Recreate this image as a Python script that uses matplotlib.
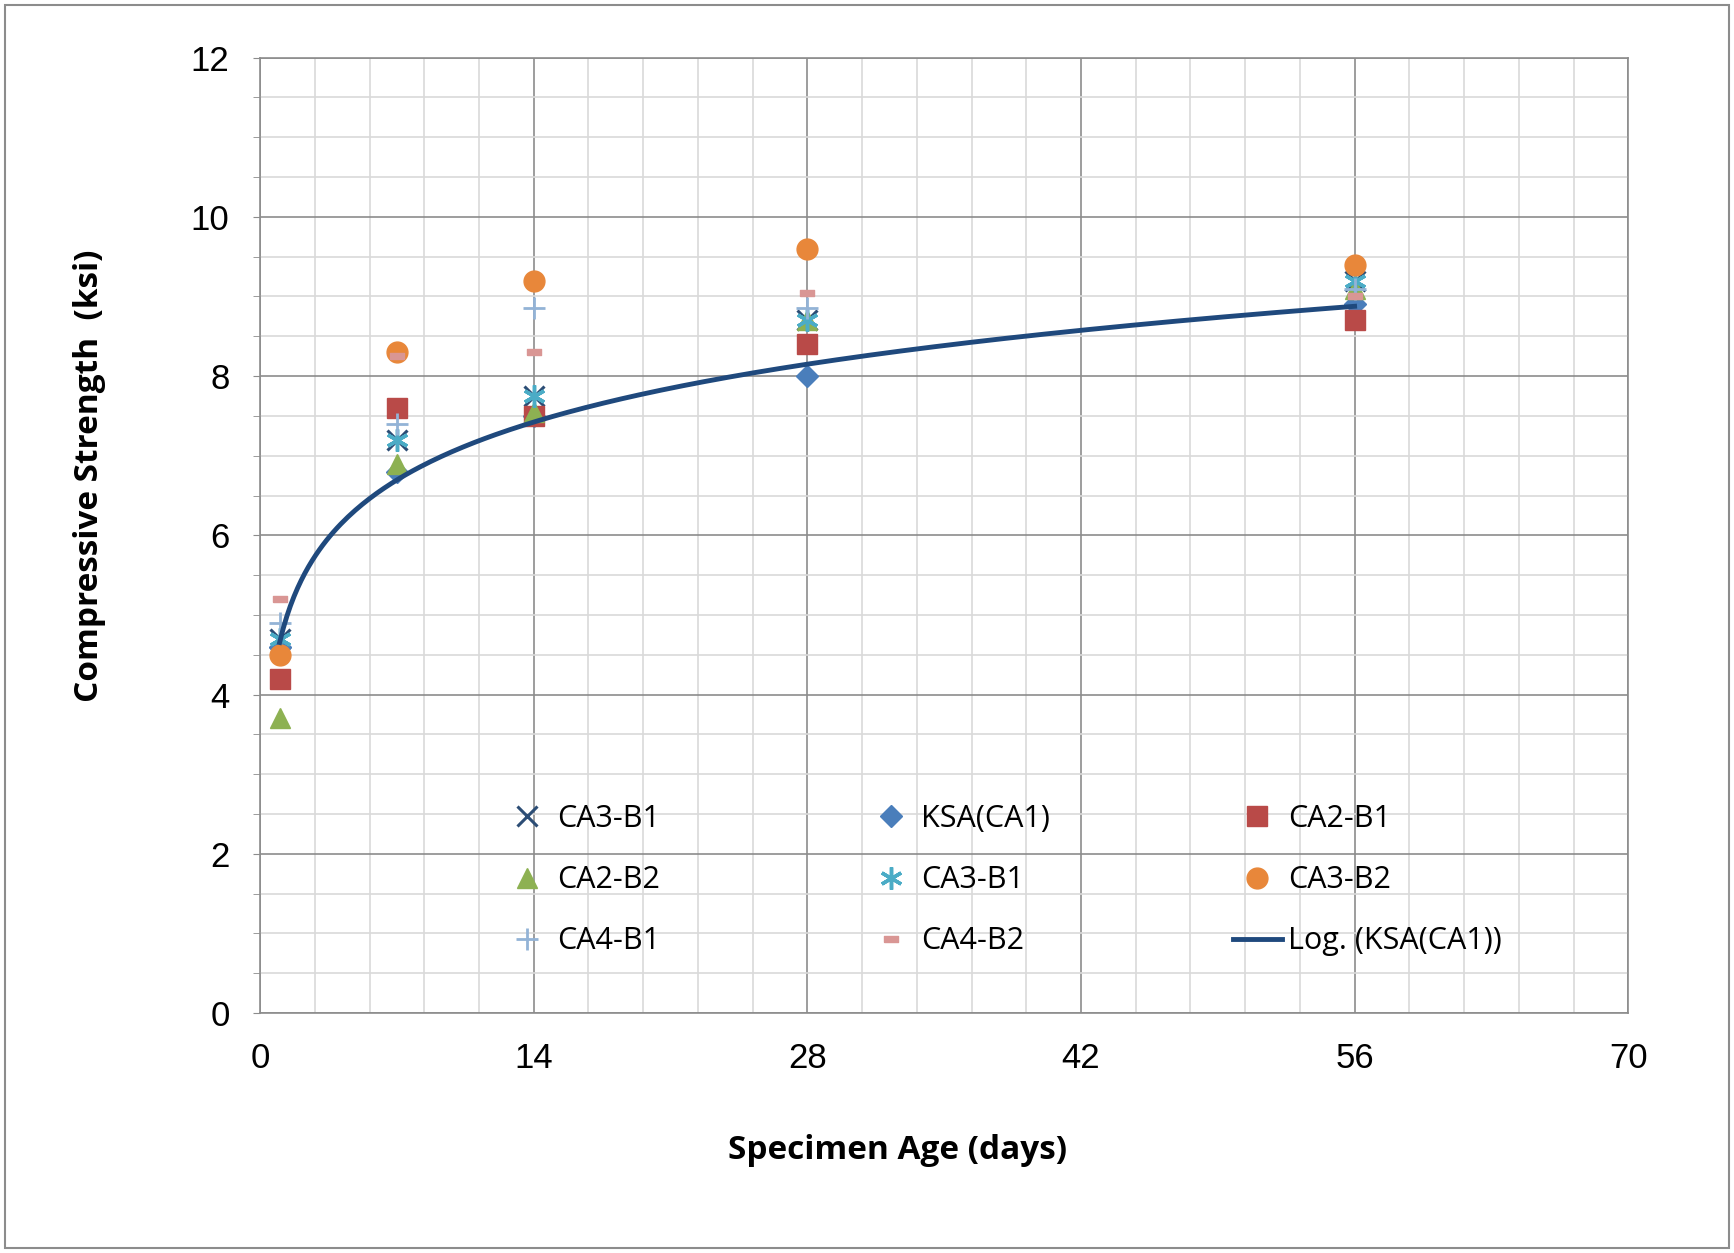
import numpy as np
import matplotlib.pyplot as plt
from matplotlib.patches import Rectangle
from matplotlib.ticker import MultipleLocator

plt.rcParams['font.family'] = ['Open Sans', 'DejaVu Sans']

days = [1, 7, 14, 28, 56]
ca3_b1 = [4.7, 7.2, 7.75, 8.7, 9.2]
ksa_ca1 = [4.6, 6.8, 7.5, 8.0, 8.9]
ca2_b1 = [4.2, 7.6, 7.5, 8.4, 8.7]
ca2_b2 = [3.7, 6.9, 7.55, 8.7, 9.1]
ca3_b1b = [4.7, 7.2, 7.75, 8.7, 9.2]
ca3_b2 = [4.5, 8.3, 9.2, 9.6, 9.4]
ca4_b1 = [4.9, 7.4, 8.85, 8.85, 9.1]
ca4_b2 = [5.2, 8.25, 8.3, 9.05, 9.0]

dash = [(-1, -0.38), (1, -0.38), (1, 0.38), (-1, 0.38), (-1, -0.38)]

fig = plt.figure(figsize=(17.34, 12.53), dpi=100)
ax = fig.add_axes([0.150, 0.1915, 0.789, 0.7625])

h = {}
h['x'] = ax.plot(days, ca3_b1, 'x', color='#2c4d75', ms=14, mew=2.2, ls='none', label='CA3-B1')[0]
h['ksa'] = ax.plot(days, ksa_ca1, 'D', color='#4a7ebb', ms=11, ls='none', label='KSA(CA1)')[0]
h['sq'] = ax.plot(days, ca2_b1, 's', color='#b94a48', ms=14, ls='none', label='CA2-B1')[0]
h['tri'] = ax.plot(days, ca2_b2, '^', color='#8db152', ms=15, ls='none', label='CA2-B2')[0]
h['ast'] = ax.plot(days, ca3_b1b, marker=(6, 2, 0), color='#4bacc6', ms=16, mew=2.5, ls='none', label='CA3-B1')[0]
h['circ'] = ax.plot(days, ca3_b2, 'o', color='#e8873a', ms=15, ls='none', label='CA3-B2')[0]
h['plus'] = ax.plot(days, ca4_b1, '+', color='#93b3d6', ms=16, mew=2, ls='none', label='CA4-B1')[0]
h['dash'] = ax.plot(days, ca4_b2, marker=dash, color='#d99694', ms=10, ls='none', label='CA4-B2')[0]

# logarithmic trendline of KSA(CA1)
a, b = np.polyfit(np.log(days), ksa_ca1, 1)
xt = np.linspace(days[0], days[-1], 300)
h['log'] = ax.plot(xt, a * np.log(xt) + b, color='#1f497d', lw=3.5, label='Log. (KSA(CA1))')[0]

ax.set_xlim(0, 70)
ax.set_ylim(0, 12)
ax.xaxis.set_major_locator(MultipleLocator(14))
ax.xaxis.set_minor_locator(MultipleLocator(2.8))
ax.yaxis.set_major_locator(MultipleLocator(2))
ax.yaxis.set_minor_locator(MultipleLocator(0.5))
ax.grid(which='major', color='#8c8c8c', lw=1.2)
ax.grid(which='minor', color='#d9d9d9', lw=1.2)
ax.set_axisbelow(True)
for s in ax.spines.values():
    s.set_color('#8c8c8c')
    s.set_linewidth(1.2)
ax.tick_params(axis='x', which='both', length=0, pad=21, labelsize=25)
ax.tick_params(axis='y', which='major', length=5, color='#8c8c8c', pad=17, labelsize=25)
ax.tick_params(axis='y', which='minor', length=5, color='#8c8c8c')
for lab in ax.get_xticklabels() + ax.get_yticklabels():
    lab.set_family(['Liberation Sans', 'DejaVu Sans'])

ax.set_xlabel('Specimen Age (days)', fontsize=24, fontweight='bold', va='center')
ax.xaxis.set_label_coords(0.466, -0.1435)
ax.set_ylabel('Compressive Strength  (ksi)', fontsize=24, fontweight='bold', va='center')
ax.yaxis.set_label_coords(-0.125, 0.5625)

# legend drawn as three columns with fixed positions
cols = [['x', 'tri', 'plus'], ['ksa', 'ast', 'dash'], ['sq', 'circ', 'log']]
col_x = [0.177, 0.443, 0.711]
for i, (keys, x0) in enumerate(zip(cols, col_x)):
    leg = ax.legend([h[k] for k in keys], [h[k].get_label() for k in keys],
                    loc='center left', bbox_to_anchor=(x0, 0.139), frameon=False,
                    fontsize=22, handlelength=1.6, handletextpad=0.2,
                    labelspacing=1.02, borderpad=0, borderaxespad=0)
    if i < 2:
        ax.add_artist(leg)

fig.patches.append(Rectangle((0.003, 0.004), 0.994, 0.992, transform=fig.transFigure,
                             fill=False, edgecolor='#8c8c8c', lw=1.5))

fig.savefig('out.png', dpi=100)
